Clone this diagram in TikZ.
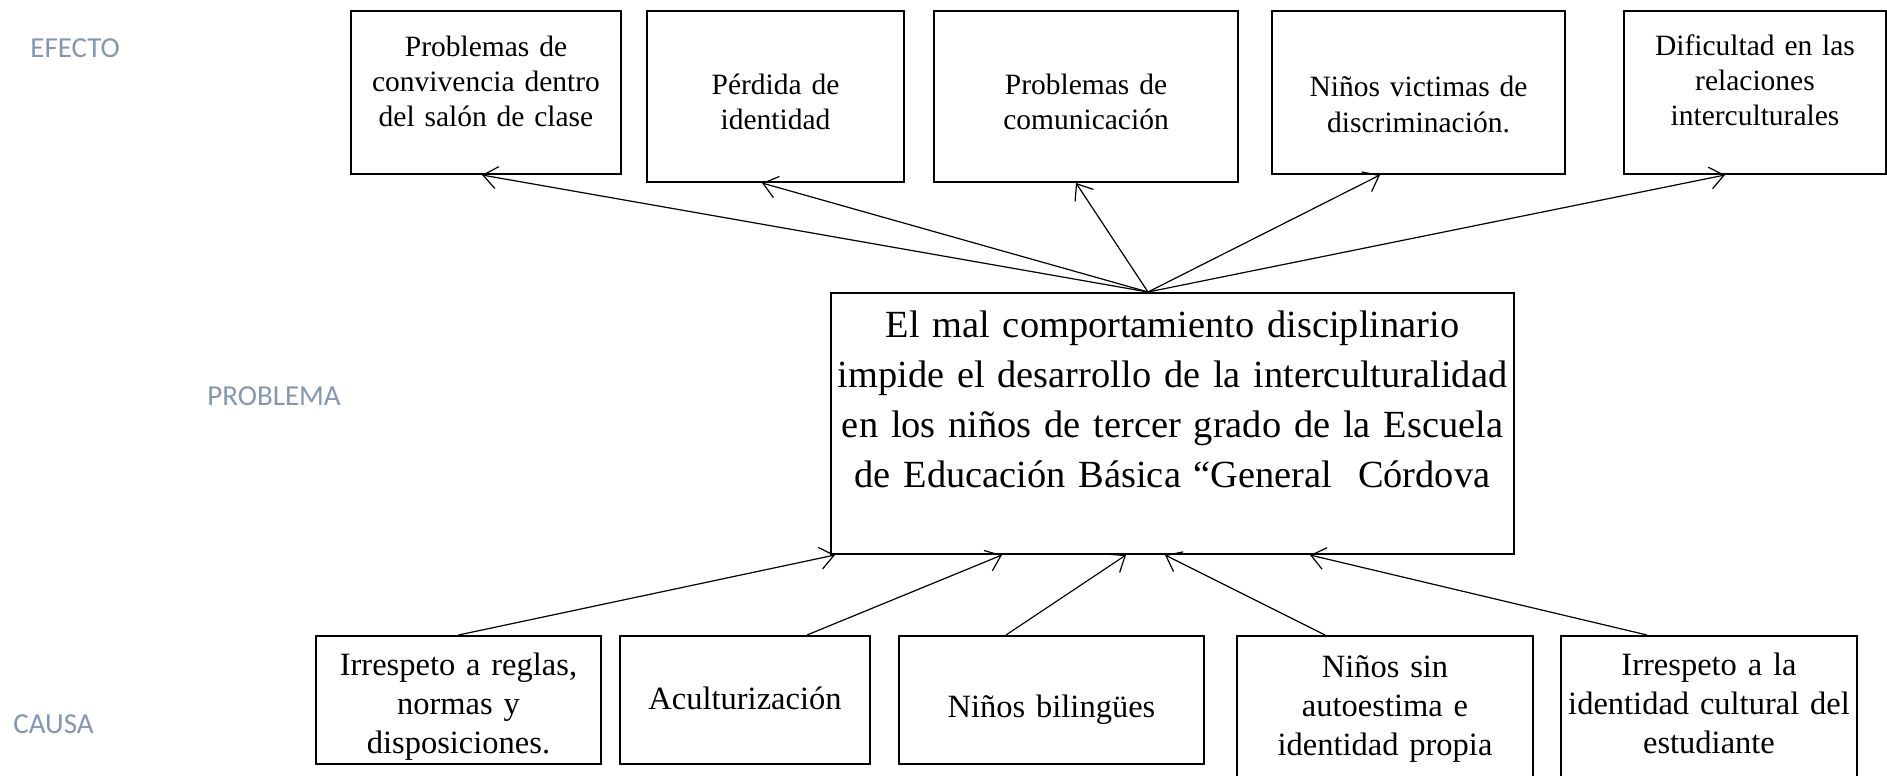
\documentclass[tikz,border=0pt]{standalone}
\usepackage{fontspec}
\setmainfont{Liberation Serif}
\newfontfamily\labfont{Carlito}
\usetikzlibrary{arrows.meta}
\definecolor{labc}{RGB}{132,151,176}
\begin{document}
\begin{tikzpicture}[x=0.5pt,y=-0.5pt,
  box/.style={draw, line width=1pt, inner sep=0pt, align=center, anchor=north west},
  topf/.style={font=\fontsize{14.75pt}{17.5pt}\selectfont},
  botf/.style={font=\fontsize{16.25pt}{19.5pt}\selectfont},
  midf/.style={font=\fontsize{19.2pt}{25pt}\selectfont},
  lab/.style={font=\labfont\fontsize{14.5pt}{17pt}\selectfont, text=labc, inner sep=0pt, anchor=base west},
  arr/.style={line width=0.6pt, -{Straight Barb[length=7pt,width=11pt]}}]
\useasboundingbox (0,0) rectangle (1887,776);
\clip (0,0) rectangle (1887,776);
% side labels
\node[lab] (lefecto) at (30,57) {EFECTO};
\node[lab] (lproblema) at (207,405) {PROBLEMA};
\node[lab] (lcausa) at (13,733) {CAUSA};
% effects
\node[box,topf,text width=135pt,text height=22.5pt,text depth=59pt] (e1) at (350,10) {Problemas de\\convivencia dentro\\del salón de clase};
\node[box,topf,text width=128.5pt,text height=41.5pt,text depth=44pt] (e2) at (646,10) {Pérdida de\\identidad};
\node[box,topf,text width=152pt,text height=41.5pt,text depth=44pt] (e3) at (933,10) {Problemas de\\comunicación};
\node[box,topf,text width=146.5pt,text height=43pt,text depth=38.5pt] (e4) at (1271,10) {Niños victimas de\\discriminación.};
\node[box,topf,text width=131pt,text height=22pt,text depth=59.5pt] (e5) at (1623,10) {Dificultad en las\\relaciones\\interculturales};
% problem
\node[box,midf,text width=341.5pt,text height=22pt,text depth=108.5pt] (c) at (830,292) {El mal comportamiento disciplinario\\impide el desarrollo de la interculturalidad\\en los niños de tercer grado de la Escuela\\de Educación Básica “General\ \ Córdova};
% causes
\node[box,botf,text width=142.5pt,text height=19.5pt,text depth=44.5pt] (k1) at (315,635) {Irrespeto a reglas,\\normas y\\disposiciones.};
\node[box,botf,text width=125pt,text height=36.5pt,text depth=27.5pt] (k2) at (619,635) {Aculturización};
\node[box,botf,text width=152.5pt,text height=40.5pt,text depth=23.5pt] (k3) at (898,635) {Niños bilingües};
\node[box,botf,text width=148pt,text height=20.5pt,text depth=62pt] (k4) at (1236,635) {Niños sin\\autoestima e\\identidad propia};
\node[box,botf,text width=148pt,text height=19.5pt,text depth=63pt] (k5) at (1560,635) {Irrespeto a la\\identidad cultural del\\estudiante};
% problem -> effects
\draw[arr] ([xshift=-12.25pt]c.north) -- ([xshift=-2pt]e1.south);
\draw[arr] ([xshift=-12.25pt]c.north) -- ([xshift=-6.75pt]e2.south);
\draw[arr] ([xshift=-12.25pt]c.north) -- ([xshift=-5pt]e3.south);
\draw[arr] ([xshift=-12.25pt]c.north) -- ([xshift=-19.25pt]e4.south);
\draw[arr] ([xshift=-12.25pt]c.north) -- ([xshift=-15pt]e5.south);
% causes -> problem
\draw[arr] (k1.north) -- ([xshift=-168.75pt]c.south);
\draw[arr] ([xshift=31pt]k2.north) -- ([xshift=-85.25pt]c.south);
\draw[arr] ([xshift=-22.75pt]k3.north) -- ([xshift=-23.25pt]c.south);
\draw[arr] ([xshift=-30pt]k4.north) -- ([xshift=-3.75pt]c.south);
\draw[arr] ([xshift=-31pt]k5.north) -- ([xshift=68.75pt]c.south);
\end{tikzpicture}
\end{document}
